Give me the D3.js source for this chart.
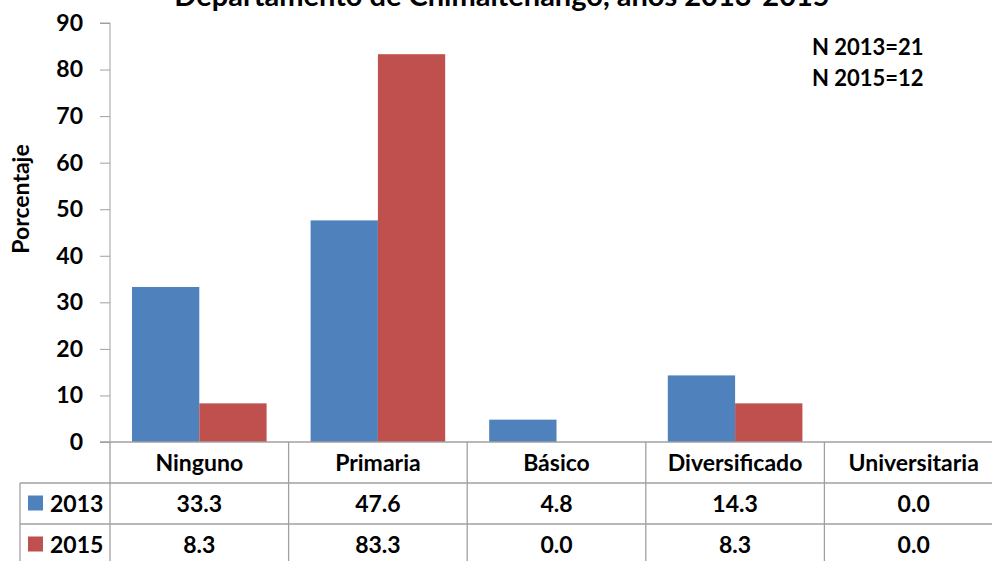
<!DOCTYPE html>
<html>
<head>
<meta charset="utf-8">
<script src="https://cdn.jsdelivr.net/npm/d3@7"></script>
<style>
  html, body { margin: 0; padding: 0; background: #fff; overflow: hidden; }
  svg { display: block; font-family: Lato, "Open Sans", sans-serif; font-weight: bold; }
</style>
</head>
<body>
<svg id="chart" width="992" height="561"></svg>
<script>
// Nivel de escolaridad, porcentajes por año
const categories = ["Ninguno", "Primaria", "Básico", "Diversificado", "Universitaria"];
const seriesNames = ["2013", "2015"];
const values2013 = [33.3, 47.6, 4.8, 14.3, 0.0];
const values2015 = [8.3, 83.3, 0.0, 8.3, 0.0];
const yTicks = [0, 10, 20, 30, 40, 50, 60, 70, 80, 90];
const sampleNotes = ["N 2013=21", "N 2015=12"];
const titleText = "Departamento de Chimaltenango, años 2013-2015";
const yLabel = "Porcentaje";

const colors = { "2013": "#4f81bd", "2015": "#c0504d" };
const seriesValues = { "2013": values2013, "2015": values2015 };

const svg = d3.select("#chart");
const plotLeft = 110, plotTop = 23, plotBottom = 442;
const bandW = 178.6;
const gridColor = "#a0a0a0";

const x = d3.scaleBand().domain(categories).range([plotLeft, plotLeft + bandW * categories.length]).padding(0);
const xs = d3.scaleBand().domain(seriesNames).range([22, bandW - 22]).padding(0);
const y = d3.scaleLinear().domain([0, 90]).range([plotBottom, plotTop]);

// title (its upper part runs past the top edge of the page)
svg.append("text").attr("x", 502).attr("y", 6).attr("text-anchor", "middle")
  .attr("font-size", 29).attr("fill", "#000").text(titleText);

// y axis
const yAxis = svg.append("g").attr("transform", `translate(${plotLeft},0)`)
  .call(d3.axisLeft(y).tickValues(yTicks).tickSize(10).tickPadding(17).tickFormat(d3.format("d")));
yAxis.select(".domain").attr("stroke", gridColor).attr("d", `M-10,${plotTop}H0V${plotBottom}`);
yAxis.selectAll(".tick line").attr("stroke", gridColor);
yAxis.selectAll(".tick text").attr("font-size", 23).attr("fill", "#000")
  .attr("font-family", "Lato, sans-serif").attr("font-weight", "bold");

svg.append("text").attr("transform", `translate(29,199) rotate(-90)`)
  .attr("text-anchor", "middle").attr("font-size", 23).attr("fill", "#000").text(yLabel);

// bars
const groups = svg.append("g").selectAll("g").data(categories).join("g")
  .attr("transform", d => `translate(${x(d)},0)`);
groups.selectAll("rect")
  .data((d, i) => seriesNames.map(s => ({ s, v: seriesValues[s][i] })))
  .join("rect")
  .attr("x", d => xs(d.s))
  .attr("width", xs.bandwidth())
  .attr("y", d => y(d.v))
  .attr("height", d => y(0) - y(d.v))
  .attr("fill", d => colors[d.s]);

// sample size notes
sampleNotes.forEach((t, i) => {
  svg.append("text").attr("x", 812).attr("y", 55 + i * 31).attr("font-size", 22)
    .attr("fill", "#000").text(t);
});

// data table
const rowH = 41;
const tableLeft = 20;
const xEnd = x.range()[1];
const table = svg.append("g").attr("stroke", gridColor).attr("stroke-width", 1.3).attr("fill", "none");
// horizontal lines
table.append("line").attr("x1", plotLeft - 10).attr("x2", xEnd).attr("y1", plotBottom).attr("y2", plotBottom);
[1, 2, 3].forEach(r => {
  table.append("line").attr("x1", tableLeft).attr("x2", xEnd)
    .attr("y1", plotBottom + r * rowH).attr("y2", plotBottom + r * rowH);
});
// vertical lines
table.append("line").attr("x1", tableLeft).attr("x2", tableLeft).attr("y1", plotBottom + rowH).attr("y2", plotBottom + 3 * rowH);
table.append("line").attr("x1", plotLeft).attr("x2", plotLeft).attr("y1", plotBottom).attr("y2", plotBottom + 3 * rowH);
categories.forEach(c => {
  const xr = x(c) + x.bandwidth();
  table.append("line").attr("x1", xr).attr("x2", xr).attr("y1", plotBottom).attr("y2", plotBottom + 3 * rowH);
});

// header labels
svg.append("g").selectAll("text").data(categories).join("text")
  .attr("x", d => x(d) + x.bandwidth() / 2)
  .attr("y", plotBottom + rowH / 2 + 8)
  .attr("text-anchor", "middle").attr("font-size", 23).attr("fill", "#000")
  .text(d => d);

// rows
seriesNames.forEach((s, r) => {
  const cy = plotBottom + rowH * (r + 1) + rowH / 2;
  svg.append("rect").attr("x", 28).attr("y", cy - 8).attr("width", 15).attr("height", 15).attr("fill", colors[s]);
  svg.append("text").attr("x", 50).attr("y", cy + 8).attr("font-size", 23).attr("fill", "#000").text(s);
  svg.append("g").selectAll("text").data(seriesValues[s]).join("text")
    .attr("x", (d, i) => x(categories[i]) + x.bandwidth() / 2)
    .attr("y", cy + 8)
    .attr("text-anchor", "middle").attr("font-size", 23).attr("fill", "#000")
    .text(d => d.toFixed(1));
});
</script>
</body>
</html>
